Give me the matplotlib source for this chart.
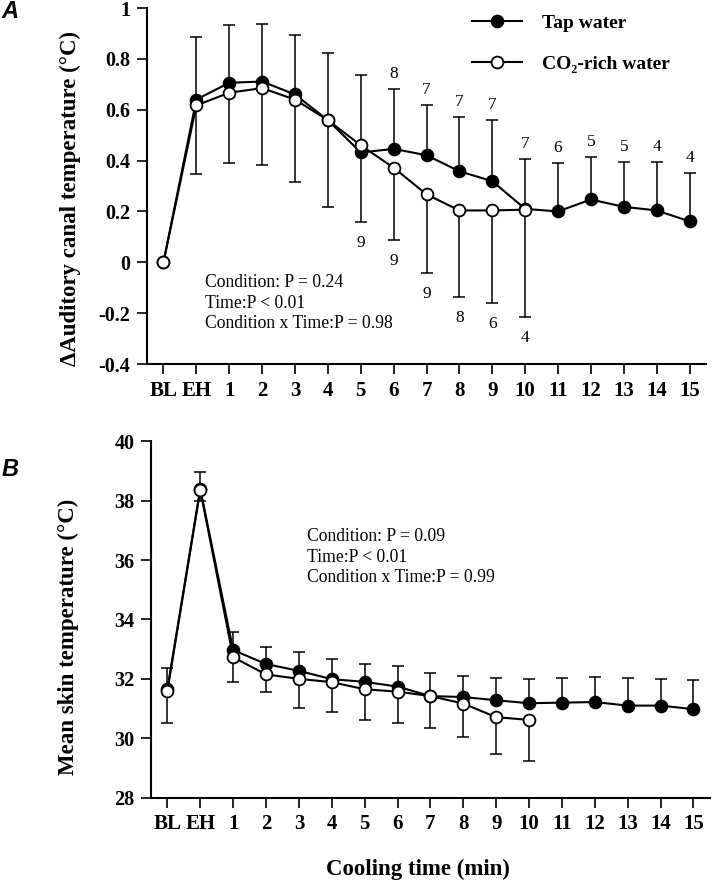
import numpy as np
import matplotlib
matplotlib.use("Agg")
import matplotlib.pyplot as plt
from matplotlib.lines import Line2D

plt.rcParams['font.family'] = ['Liberation Serif', 'DejaVu Serif']
plt.rcParams['axes.unicode_minus'] = False

tick_labels = ['BL', 'EH'] + [str(i) for i in range(1, 16)]

# panel A: auditory canal temperature change
tap_a = [0, 0.64, 0.706, 0.711, 0.66, 0.559, 0.432, 0.446, 0.421, 0.358, 0.319,
         0.21, 0.20, 0.247, 0.218, 0.204, 0.161]
tap_a_sd = [0, 0.246, 0.227, 0.225, 0.234, 0.263, 0.303, 0.235, 0.196, 0.214,
            0.242, 0.197, 0.189, 0.169, 0.177, 0.192, 0.192]
co2_a = [0, 0.617, 0.667, 0.685, 0.64, 0.559, 0.46, 0.372, 0.267, 0.204, 0.204, 0.207]
co2_a_sd = [0, 0.271, 0.276, 0.304, 0.326, 0.341, 0.301, 0.285, 0.308, 0.34, 0.365, 0.424]
# n per time point (key = minute)
tap_n = {6: 8, 7: 7, 8: 7, 9: 7, 10: 7, 11: 6, 12: 5, 13: 5, 14: 4, 15: 4}
co2_n = {5: 9, 6: 9, 7: 9, 8: 8, 9: 6, 10: 4}

# panel B: mean skin temperature
tap_b = [31.65, 38.4, 32.97, 32.5, 32.27, 31.99, 31.9, 31.74, 31.42, 31.39, 31.28,
         31.18, 31.2, 31.22, 31.1, 31.1, 30.98]
tap_b_sd = [0.72, 0.55, 0.61, 0.57, 0.63, 0.67, 0.59, 0.68, 0.78, 0.71, 0.75,
            0.81, 0.82, 0.85, 0.92, 0.89, 0.97]
co2_b = [31.6, 38.36, 32.73, 32.15, 32.0, 31.89, 31.65, 31.57, 31.42, 31.17, 30.71, 30.62]
co2_b_sd = [1.08, 0.37, 0.83, 0.59, 0.97, 1.01, 1.05, 1.04, 1.08, 1.14, 1.25, 1.37]

stats_a = "Condition: P = 0.24\nTime:P < 0.01\nCondition x Time:P = 0.98"
stats_b = "Condition: P = 0.09\nTime:P < 0.01\nCondition x Time:P = 0.99"


def draw_panel(ax, tap, tap_sd, co2, co2_sd):
    xt = np.arange(len(tap))
    xc = np.arange(len(co2))
    tap = np.array(tap); tap_sd = np.array(tap_sd)
    co2 = np.array(co2); co2_sd = np.array(co2_sd)
    # tap: upper bars, co2: lower bars
    mt = tap_sd > 0
    ax.vlines(xt[mt], tap[mt], tap[mt] + tap_sd[mt], color='black', lw=1.1, zorder=1)
    ax.plot(xt[mt], tap[mt] + tap_sd[mt], ls='none', marker='_', ms=9, mew=1.1,
            color='black', zorder=1)
    mc = co2_sd > 0
    ax.vlines(xc[mc], co2[mc] - co2_sd[mc], co2[mc], color='black', lw=1.1, zorder=1)
    ax.plot(xc[mc], co2[mc] - co2_sd[mc], ls='none', marker='_', ms=9, mew=1.1,
            color='black', zorder=1)
    ax.plot(xt, tap, color='black', lw=1.5, marker='o', ms=8.5, mfc='black',
            mec='black', mew=1.3, zorder=3)
    ax.plot(xc, co2, color='black', lw=1.5, marker='o', ms=8.5, mfc='white',
            mec='black', mew=1.3, zorder=4)

    ax.set_xlim(-0.5, 16.5)
    ax.set_xticks(np.arange(17))
    ax.set_xticklabels(tick_labels)
    for s in ['top', 'right']:
        ax.spines[s].set_visible(False)
    for s in ['left', 'bottom']:
        ax.spines[s].set_linewidth(1.5)
    ax.tick_params(direction='out', length=7, width=1.2, pad=5)
    ax.tick_params(axis='x', labelsize=15)
    ax.tick_params(axis='y', labelsize=14.5)


def bold_ticks(ax):
    for lab in ax.get_xticklabels() + ax.get_yticklabels():
        lab.set_fontweight('bold')


fig = plt.figure(figsize=(7.12, 8.82), dpi=100)
ax1 = fig.add_axes([0.2065, 0.5873, 0.7851, 0.4036])
ax2 = fig.add_axes([0.212, 0.0956, 0.785, 0.4041])

draw_panel(ax1, tap_a, tap_a_sd, co2_a, co2_a_sd)
ax1.set_ylim(-0.4, 1.0)
ax1.set_yticks([-0.4, -0.2, 0, 0.2, 0.4, 0.6, 0.8, 1.0])
ax1.set_yticklabels(['-0.4', '-0.2', '0', '0.2', '0.4', '0.6', '0.8', '1'])
bold_ticks(ax1)

# n labels
for m, n in tap_n.items():
    k = m + 1
    ax1.annotate(str(n), (k, tap_a[k] + tap_a_sd[k]), xytext=(0, 15),
                 textcoords='offset pixels', ha='center', va='center', fontsize=12.5)
for m, n in co2_n.items():
    k = m + 1
    ax1.annotate(str(n), (k, co2_a[k] - co2_a_sd[k]), xytext=(0, -21),
                 textcoords='offset pixels', ha='center', va='center', fontsize=12.5)

draw_panel(ax2, tap_b, tap_b_sd, co2_b, co2_b_sd)
ax2.set_ylim(28, 40)
ax2.set_yticks(np.arange(28, 41, 2))
bold_ticks(ax2)

# legend
handles = [Line2D([], [], color='black', lw=1.5, marker='o', ms=8.5, mfc='black', mew=1.3),
           Line2D([], [], color='black', lw=1.5, marker='o', ms=8.5, mfc='white', mew=1.3)]
fig.legend(handles, ['Tap water', 'CO₂-rich water'], loc='upper left',
           bbox_to_anchor=(458 / 712, 1 - 1 / 882), frameon=False,
           prop={'weight': 'bold', 'size': 14}, handlelength=2.6,
           handletextpad=1.0, labelspacing=1.2, borderpad=0.2)

fig.text(205 / 712, 1 - 274 / 882, stats_a, fontsize=12.7, va='top', ha='left',
         linespacing=1.27)
fig.text(307 / 712, 1 - 528 / 882, stats_b, fontsize=12.7, va='top', ha='left',
         linespacing=1.27)

fig.text(70 / 712, 1 - 198 / 882, 'ΔAuditory canal temperature (°C)', rotation=90,
         ha='center', va='center', fontsize=16.5, fontweight='bold')
fig.text(68 / 712, 1 - 637 / 882, 'Mean skin temperature (°C)', rotation=90,
         ha='center', va='center', fontsize=16.5, fontweight='bold')
fig.text(418 / 712, 1 - 869 / 882, 'Cooling time (min)', ha='center', va='center',
         fontsize=16.5, fontweight='bold')

fig.text(10 / 712, 1 - 12 / 882, 'A', ha='center', va='center', fontsize=17,
         fontweight='bold', style='italic', family='Liberation Sans')
fig.text(10 / 712, 1 - 469 / 882, 'B', ha='center', va='center', fontsize=17,
         fontweight='bold', style='italic', family='Liberation Sans')

fig.savefig('out.png', dpi=100)
